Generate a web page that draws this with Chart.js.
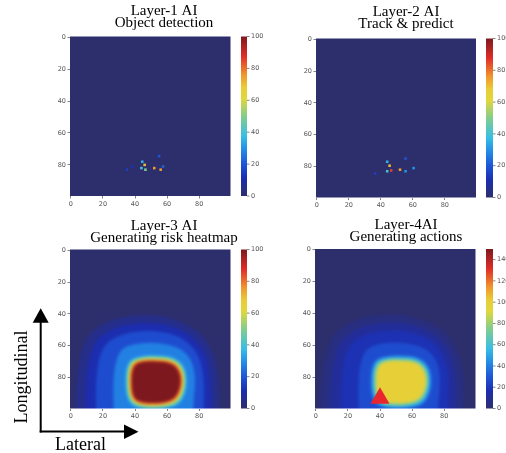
<!DOCTYPE html>
<html>
<head>
<meta charset="utf-8">
<script src="https://cdn.jsdelivr.net/npm/chart.js@4.4.1/dist/chart.umd.min.js"></script>
<style>
html,body{margin:0;padding:0;background:#fff;width:506px;height:453px;overflow:hidden;position:relative}
canvas{position:absolute}
.lbl{position:absolute;font-family:'Liberation Serif','Times New Roman',serif;font-size:18px;color:#000;white-space:nowrap}
</style>
</head>
<body>
<canvas id="c1"></canvas>
<canvas id="c2"></canvas>
<canvas id="c3"></canvas>
<canvas id="c4"></canvas>
<svg style="position:absolute;left:0;top:0" width="506" height="453">
  <line x1="40.7" y1="321" x2="40.7" y2="432.5" stroke="#000" stroke-width="2"/>
  <polygon points="32.7,322.7 48.7,322.7 40.7,308.3" fill="#000"/>
  <line x1="39.7" y1="431.6" x2="125" y2="431.6" stroke="#000" stroke-width="2"/>
  <polygon points="124,424.5 124,439 138.5,431.7" fill="#000"/>
</svg>
<div class="lbl" style="left:-39px;top:367px;width:120px;height:20px;line-height:20px;text-align:center;transform:rotate(-90deg)">Longitudinal</div>
<div class="lbl" style="left:55px;top:434px;height:20px;line-height:20px">Lateral</div>
<script>
// ---------- data ----------
const X_TICKS = [0, 20, 40, 60, 80];
const Y_TICKS = [0, 20, 40, 60, 80];
const CB_TICKS_100 = [0, 20, 40, 60, 80, 100];
const CB_TICKS_150 = [0, 20, 40, 60, 80, 100, 120, 140];
const CB_MAX_100 = 100;
const CB_MAX_150 = 150;

const TITLE_1 = ["Layer-1 AI", "Object detection"];
const TITLE_2 = ["Layer-2 AI", "Track & predict"];
const TITLE_3 = ["Layer-3 AI", "Generating risk heatmap"];
const TITLE_4 = ["Layer-4AI", "Generating actions"];

// Layer-1 detections (lateral, longitudinal, value)
const L1_X = [44.5, 46, 44, 46.5, 52, 56, 55, 57.5, 35, 38.5];
const L1_Y = [78, 80, 82, 83, 82, 83, 74.5, 81, 83, 81];
const L1_V = [35, 70, 40, 50, 75, 75, 20, 22, 15, 12];

// Layer-2 tracks (lateral, longitudinal, value)
const L2_X = [44, 45.5, 44, 46.5, 52, 55.5, 55.5, 60.5, 36.5];
const L2_Y = [77, 79.5, 83, 82.5, 82, 83, 75, 81, 84.5];
const L2_V = [35, 70, 40, 85, 75, 30, 20, 30, 15];

const CONTOUR_LEVELS = [5, 11, 18, 27, 37, 52, 66, 84, 100];
const CONTOUR_U = [
  [10, 22, 40, 56, 70, 81, 88, 91.5, 92.5, 92.5, 3, 3, 4.5, 7],
  [16, 27, 42, 56, 68, 77, 83.5, 86.5, 87.5, 87.5, 9, 9, 10, 12.5],
  [22, 32, 45, 57, 67, 75, 80, 82.5, 83, 82.5, 16, 15.5, 16, 18],
  [31, 40, 52, 62, 69.5, 74.5, 77, 77.5, 76.5, 76, 27, 26.5, 26.5, 27.5],
  [37.2, 46, 54, 61.3, 67.6, 71.5, 72.5, 71.5, 67.6, 60.3, 51, 42.4, 36.8, 34.3, 34, 34.3],
  [38, 46, 54, 61, 66.8, 70.5, 71.5, 70.5, 66.8, 60, 51, 42.8, 37.6, 35.3, 35, 35.3],
  [38.8, 46, 54, 60.6, 66, 69.5, 70.5, 69.5, 66, 59.6, 51, 43.2, 38.4, 36.3, 36, 36.3],
  [39.6, 46, 54, 60.3, 65.3, 68.5, 69.5, 68.5, 65.3, 59.3, 51, 43.6, 39.2, 37.3, 37, 37.3],
  [40.5, 46, 54, 60, 64.5, 67.5, 68.5, 67.5, 64.5, 59, 51, 44, 40, 38.3, 38, 38.3]
];
const CONTOUR_V = [
  [54, 44.5, 40.5, 41, 45, 52, 62, 74, 88, 110, 110, 88, 74, 62],
  [56, 48.5, 45.5, 46, 49.5, 55.5, 64, 75, 88, 110, 110, 90, 76, 64],
  [58, 52.5, 50.5, 51, 54, 59.5, 67, 77, 88, 110, 110, 90, 78, 66],
  [62, 58.5, 58, 59.5, 62.5, 68, 75, 84, 94, 110, 110, 92, 82, 72],
  [68.2, 66, 66, 66.5, 69.2, 74.5, 82, 90, 97, 99.5, 100, 99.5, 96.6, 90.4, 82, 74.4],
  [69, 67, 67, 67.5, 70, 75, 82, 89.5, 96, 98.5, 99, 98.5, 95.8, 90, 82, 74.8],
  [69.8, 68, 68, 68.5, 70.8, 75.5, 82, 89, 95, 97.5, 98, 97.5, 95, 89.6, 82, 75.2],
  [70.6, 69, 69, 69.5, 71.6, 76, 82, 88.5, 94, 96.5, 97, 96.5, 94.3, 89.3, 82, 75.6],
  [71.5, 70, 70, 70.5, 72.5, 76.5, 82, 88, 93, 95.5, 96, 95.5, 93.5, 89, 82, 76]
];
// Layer-4 shows the same field on a 0-150 scale, plus the ego vehicle marker
const EGO_X = [40];
const EGO_Y = [93];

// colormap stops (fraction, rgb)
const COLOR_STOPS = [
  [0.000, [45, 46, 108]],
  [0.110, [28, 45, 175]],
  [0.200, [30, 85, 215]],
  [0.290, [35, 140, 230]],
  [0.375, [55, 190, 230]],
  [0.500, [130, 205, 140]],
  [0.610, [225, 215, 60]],
  [0.680, [232, 205, 55]],
  [0.760, [240, 150, 45]],
  [0.875, [225, 45, 40]],
  [1.000, [125, 25, 30]]
];

// ---------- helpers ----------
function rgbAt(t) {
  t = Math.max(0, Math.min(1, t));
  for (let i = 1; i < COLOR_STOPS.length; i++) {
    const [t1, c1] = COLOR_STOPS[i];
    const [t0, c0] = COLOR_STOPS[i - 1];
    if (t <= t1) {
      const f = (t - t0) / (t1 - t0);
      return c0.map((v, k) => Math.round(v + (c1[k] - v) * f));
    }
  }
  return COLOR_STOPS[COLOR_STOPS.length - 1][1];
}
function colorAt(t) { return 'rgb(' + rgbAt(t).join(',') + ')'; }

const heatPlugin = {
  id: 'heat',
  beforeDatasetsDraw(chart, args, opts) {
    const {ctx, chartArea: ca} = chart;
    const xs = chart.scales.x, ys = chart.scales.y;
    const X = u => xs.getPixelForValue(u), Y = v => ys.getPixelForValue(v);
    const off = document.createElement('canvas');
    off.width = chart.width; off.height = chart.height;
    const o = off.getContext('2d');
    // value 0 background, a little wider than the image so the soft edge stays dark
    o.fillStyle = colorAt(0);
    o.fillRect(ca.left - 8, ca.top - 8, ca.width + 16, ca.height + 16);
    if (opts.contours) {
      CONTOUR_LEVELS.forEach((lev, i) => {
        const us = CONTOUR_U[i], vs = CONTOUR_V[i], n = us.length;
        const mid = k => [(X(us[k]) + X(us[(k + 1) % n])) / 2, (Y(vs[k]) + Y(vs[(k + 1) % n])) / 2];
        o.fillStyle = colorAt(lev / opts.vmax);
        o.beginPath();
        let m = mid(n - 1);
        o.moveTo(m[0], m[1]);
        for (let k = 0; k < n; k++) {
          m = mid(k);
          o.quadraticCurveTo(X(us[k]), Y(vs[k]), m[0], m[1]);
        }
        o.closePath();
        o.fill();
      });
    }
    if (opts.dx) {
      for (let i = 0; i < opts.dx.length; i++) {
        const l = X(opts.dx[i] - 0.8), r = X(opts.dx[i] + 0.8);
        const t = Y(opts.dy[i] - 0.8), b = Y(opts.dy[i] + 0.8);
        o.fillStyle = colorAt(opts.dv[i] / opts.vmax);
        o.fillRect(l, t, r - l, b - t);
      }
    }
    ctx.save();
    ctx.beginPath();
    ctx.rect(ca.left, ca.top, ca.width, ca.height);
    ctx.clip();
    ctx.filter = 'blur(' + opts.blur + 'px)';
    ctx.drawImage(off, 0, 0);
    ctx.restore();
  },
  afterDraw(chart, args, opts) {
    const {ctx, chartArea: ca} = chart;
    const cb = chart.scales.cb;
    const x0 = ca.right + opts.cbGap, w = opts.cbWidth;
    const g = ctx.createLinearGradient(0, cb.bottom, 0, cb.top);
    COLOR_STOPS.forEach(([t]) => g.addColorStop(t, colorAt(t)));
    ctx.save();
    ctx.fillStyle = g;
    ctx.fillRect(x0, cb.top, w, cb.bottom - cb.top);
    ctx.strokeStyle = '#666';
    ctx.lineWidth = 0.8;
    cb.ticks.forEach(tk => {
      const y = cb.getPixelForValue(tk.value);
      ctx.beginPath();
      ctx.moveTo(x0 + w, y);
      ctx.lineTo(x0 + w + 2.5, y);
      ctx.stroke();
    });
    ctx.restore();
  }
};

const tickFont = {family: "'DejaVu Sans', sans-serif", size: 6.5};
const tickColor = '#555';

function makePanel(id, g, title, vmax, cbTicks, heat, datasets) {
  const cv = document.getElementById(id);
  cv.width = g.W; cv.height = g.H;
  cv.style.left = g.left + 'px'; cv.style.top = g.top + 'px';
  cv.style.width = g.W + 'px'; cv.style.height = g.H + 'px';
  const yw = g.imgL - g.left, cbw = g.left + g.W - g.imgR, xh = g.top + g.H - g.imgB;
  const padB = g.imgT - g.top - 24 - g.padTop;
  const axisGrid = {display: true, drawOnChartArea: false, drawTicks: true, tickLength: 2.5, color: '#666', lineWidth: 0.8};
  heat.vmax = vmax;
  heat.cbGap = g.cbGap; heat.cbWidth = g.cbWidth;
  new Chart(cv, {
    type: 'scatter',
    data: {datasets: datasets},
    plugins: [heatPlugin],
    options: {
      responsive: false, animation: false, events: [],
      layout: {padding: 0, autoPadding: false},
      plugins: {
        legend: {display: false}, tooltip: {enabled: false},
        title: {
          display: true, text: title, color: '#000',
          font: {family: "'Liberation Serif','Times New Roman',serif", size: 15, weight: 'normal', lineHeight: '12px'},
          padding: {top: g.padTop, bottom: padB}
        },
        heat: heat
      },
      scales: {
        x: {
          type: 'linear', position: 'bottom', min: -0.5, max: 99.5,
          afterBuildTicks: s => { s.ticks = X_TICKS.map(v => ({value: v})); },
          afterFit: s => { s.height = xh; },
          grid: axisGrid, border: {display: false},
          ticks: {font: tickFont, color: tickColor, padding: 1.5, maxRotation: 0, autoSkip: false}
        },
        y: {
          type: 'linear', position: 'left', min: -0.5, max: 99.5, reverse: true,
          afterBuildTicks: s => { s.ticks = Y_TICKS.map(v => ({value: v})); },
          afterFit: s => { s.width = yw; },
          grid: axisGrid, border: {display: false},
          ticks: {font: tickFont, color: tickColor, padding: 1.5, autoSkip: false}
        },
        cb: {
          type: 'linear', position: 'right', min: 0, max: vmax,
          afterBuildTicks: s => { s.ticks = cbTicks.map(v => ({value: v})); },
          afterFit: s => { s.width = cbw; },
          grid: {display: true, drawOnChartArea: false, drawTicks: true,
                 tickLength: g.cbGap + g.cbWidth + 4, color: 'rgba(0,0,0,0)'},
          border: {display: false},
          ticks: {font: tickFont, color: tickColor, padding: 0, autoSkip: false}
        }
      }
    }
  });
}

makePanel('c1',
  {left: 0, top: 0, W: 328, H: 211, imgL: 70, imgR: 230.5, imgT: 36.5, imgB: 196, padTop: 5, cbGap: 10.5, cbWidth: 6},
  TITLE_1, CB_MAX_100, CB_TICKS_100, {dx: L1_X, dy: L1_Y, dv: L1_V, blur: 0.5}, []);
makePanel('c2',
  {left: 300, top: 0, W: 212, H: 212, imgL: 316, imgR: 476, imgT: 38.5, imgB: 197.5, padTop: 6, cbGap: 10, cbWidth: 7},
  TITLE_2, CB_MAX_100, CB_TICKS_100, {dx: L2_X, dy: L2_Y, dv: L2_V, blur: 0.5}, []);
makePanel('c3',
  {left: 0, top: 216, W: 328, H: 207, imgL: 70, imgR: 230.5, imgT: 249.5, imgB: 408.5, padTop: 4.5, cbGap: 10.5, cbWidth: 6},
  TITLE_3, CB_MAX_100, CB_TICKS_100, {contours: true, blur: 1.6}, []);
makePanel('c4',
  {left: 300, top: 215, W: 212, H: 208, imgL: 315, imgR: 475.5, imgT: 249, imgB: 408.5, padTop: 4.5, cbGap: 10.5, cbWidth: 7},
  TITLE_4, CB_MAX_150, CB_TICKS_150, {contours: true, blur: 1.6},
  [{data: EGO_X.map((x, i) => ({x: x, y: EGO_Y[i]})), pointStyle: 'triangle', pointRadius: 11,
    backgroundColor: '#e8262e', borderWidth: 0}]);
</script>
</body>
</html>
